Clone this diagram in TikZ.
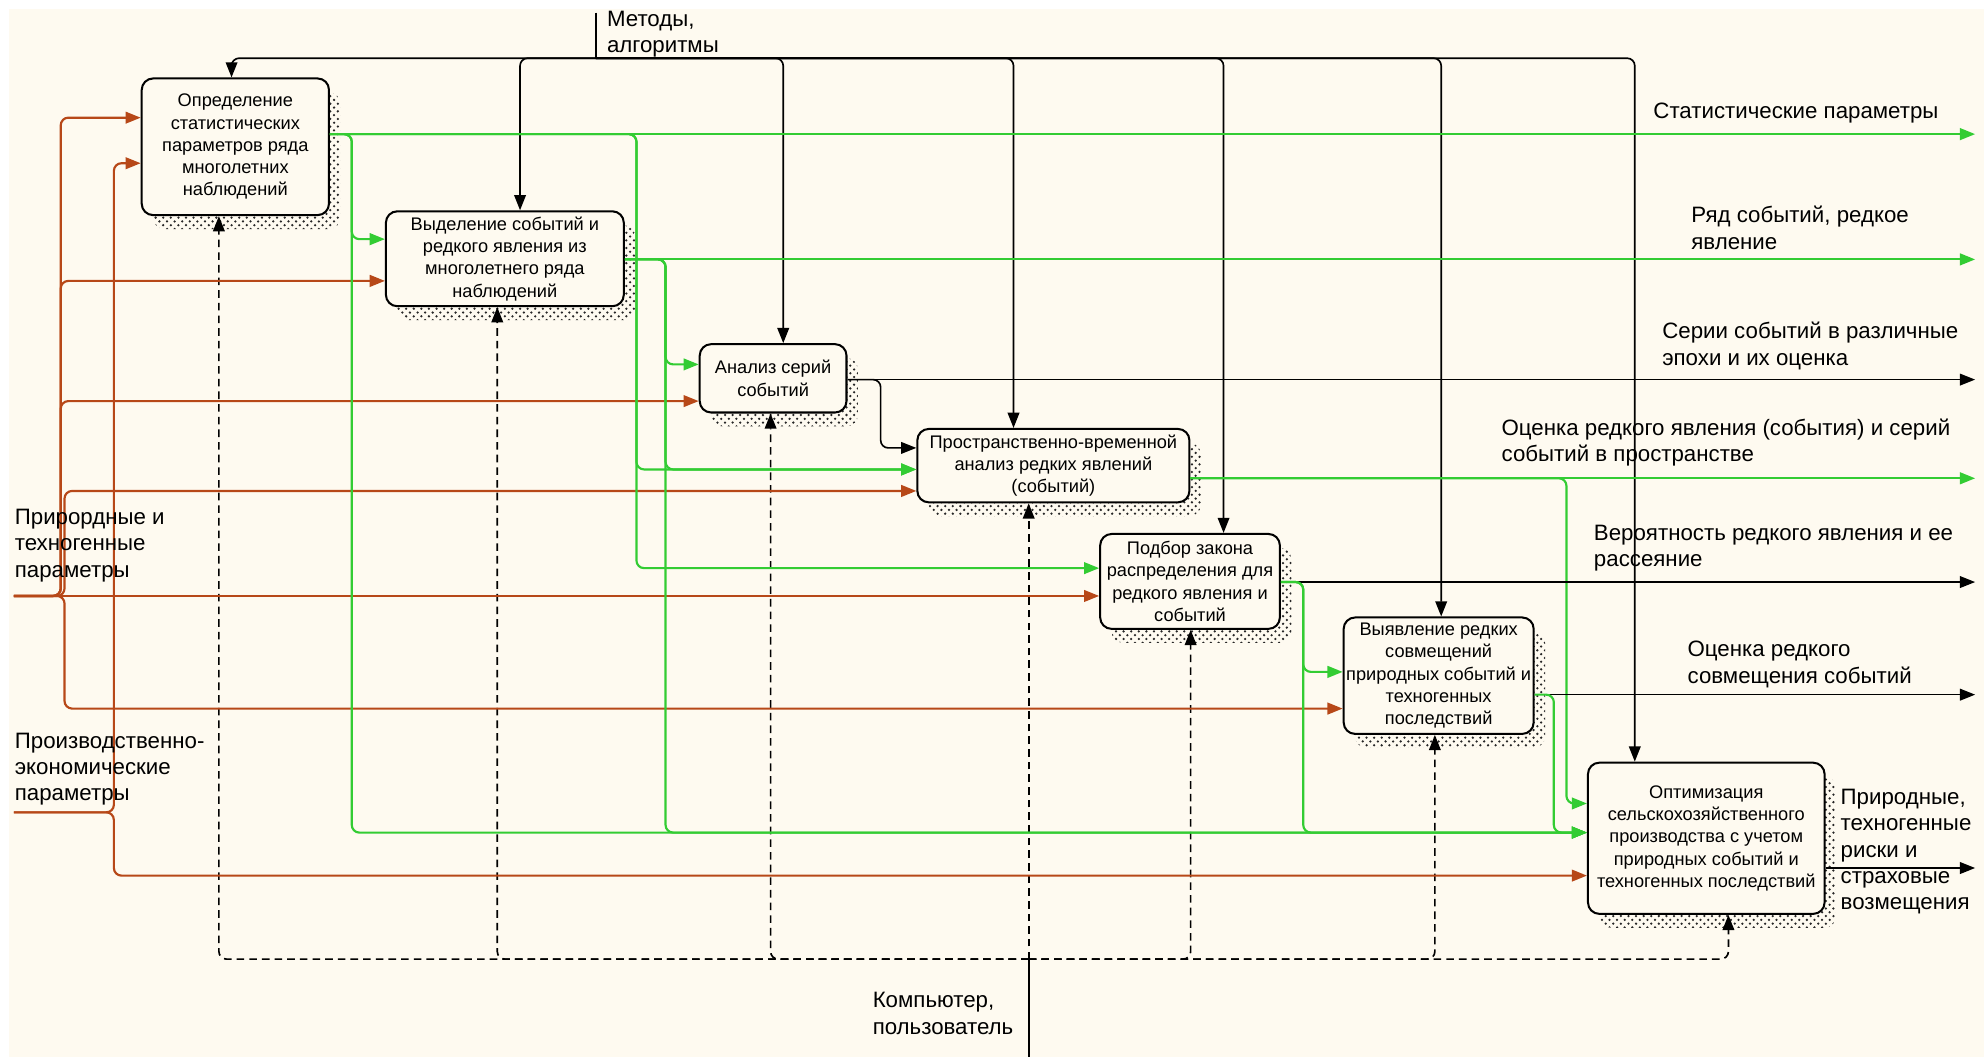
\documentclass[tikz,border=0pt]{standalone}
\usepackage{fontspec}
\setmainfont{Liberation Sans}
\usetikzlibrary{arrows.meta,patterns,shadows}

\definecolor{bgcream}{RGB}{254,250,240}
\definecolor{brownline}{RGB}{183,72,24}
\definecolor{greenline}{RGB}{51,204,51}

\newcommand{\boxfont}{\fontsize{7.2}{8.8}\selectfont}
\newcommand{\lblfont}{\fontsize{8.8}{10.4}\selectfont}

\tikzset{every picture/.style={line width=0.75pt}}
\tikzset{
  idefbox/.style={draw, line width=0.8pt, rounded corners=4.5pt, fill=bgcream,
    inner sep=1pt, align=center, font=\boxfont,
    general shadow={shadow xshift=4.5pt, shadow yshift=-5.5pt,
      pattern=crosshatch dots, pattern color=black!85}},
  lbl/.style={inner sep=0pt, anchor=west, align=left, font=\lblfont},
  tip/.style={-{Triangle[length=6pt,width=4.6pt]}},
  brn/.style={draw=brownline, line width=0.85pt, rounded corners=3pt},
  grn/.style={draw=greenline, line width=0.85pt, rounded corners=3pt},
  blk/.style={draw=black, line width=0.65pt, rounded corners=3pt},
  mech/.style={draw=black, line width=0.65pt, rounded corners=3pt, dash pattern=on 3pt off 2pt},
}

\begin{document}
\begin{tikzpicture}[x=0.5pt,y=0.5pt,yscale=-1]
%Shape: Rectangle (sheet)
\fill[white] (0,0) rectangle (1568,835);
\fill[bgcream] (7,7) rectangle (1568,835);
\useasboundingbox (0,0) rectangle (1568,835);

%Flowchart: Process
\node[idefbox, minimum width=74pt, minimum height=54pt] (b1) at (186,116)
  {Определение\\статистических\\параметров ряда\\многолетних\\наблюдений};
%Flowchart: Process
\node[idefbox, minimum width=94pt, minimum height=37.5pt] (b2) at (399,204.5)
  {Выделение событий и\\редкого явления из\\многолетнего ряда\\наблюдений};
%Flowchart: Process
\node[idefbox, minimum width=58pt, minimum height=27pt] (b3) at (611,299)
  {Анализ серий\\событий};
%Flowchart: Process
\node[idefbox, minimum width=107.5pt, minimum height=29pt] (b4) at (832.5,368)
  {Пространственно-временной\\анализ редких явлений\\(событий)};
%Flowchart: Process
\node[idefbox, minimum width=71pt, minimum height=37.5pt] (b5) at (940.5,459.5)
  {Подбор закона\\распределения для\\редкого явления и\\событий};
%Flowchart: Process
\node[idefbox, minimum width=74.25pt, minimum height=46pt] (b6) at (1137,534)
  {Выявление редких\\совмещений\\природных событий и\\техногенных\\последствий};
%Flowchart: Process
\node[idefbox, minimum width=93.5pt, minimum height=59.75pt] (b7) at (1348.5,662.5)
  {Оптимизация\\сельскохозяйственного\\производства с учетом\\природных событий и\\техногенных последствий};

%Free ends
\coordinate (metIn) at (471,10);
\coordinate (ctrlbus) at (471,46);
\coordinate (mechIn) at (813,835);
\coordinate (mechbus) at (813,758);
\coordinate (inA) at (11,471);
\coordinate (inB) at (11,642);
\coordinate (oStat) at (1561,106);
\coordinate (oRyad) at (1561,205);
\coordinate (oSerii) at (1561,300);
\coordinate (oOcen) at (1561,378);
\coordinate (oVer) at (1561,460);
\coordinate (oSovm) at (1561,549);
\coordinate (oRisk) at (1561,686);

%Straight Lines: controls
\draw[blk] (metIn) -- (ctrlbus);
\draw[blk,tip] (ctrlbus) -- (183,46) -- (b1.north -| 183,0);
\draw[blk,tip] (ctrlbus) -| (b2.north -| 411,0);
\draw[blk,tip] (ctrlbus) -| (b3.north -| 619,0);
\draw[blk,tip] (ctrlbus) -| (b4.north -| 801,0);
\draw[blk,tip] (ctrlbus) -| (b5.north -| 967,0);
\draw[blk,tip] (ctrlbus) -| (b6.north -| 1139,0);
\draw[blk,tip] (ctrlbus) -- (1292,46) -- (b7.north -| 1292,0);

%Straight Lines: mechanisms
\draw[blk] (mechIn) -- (mechbus);
\draw[mech,tip] (mechbus) -- (173,758) -- (b1.south -| 173,0);
\draw[mech,tip] (mechbus) -- (393,758) -- (b2.south -| 393,0);
\draw[mech,tip] (mechbus) -- (609,758) -- (b3.south -| 609,0);
\draw[mech,tip] (mechbus) -- (b4.south -| 813,0);
\draw[mech,tip] (mechbus) -- (941,758) -- (b5.south -| 941,0);
\draw[mech,tip] (mechbus) -- (1134,758) -- (b6.south -| 1134,0);
\draw[mech,tip] (mechbus) -- (1366,758) -- (b7.south -| 1366,0);

%Straight Lines: inputs
\draw[brn,tip] (inA) -- (b5.west |- 0,471);
\draw[brn,tip] (inA) -- (48,471) -- (48,93) -- (b1.west |- 0,93);
\draw[brn,tip] (inA) -- (48,471) -- (48,222) -- (b2.west |- 0,222);
\draw[brn,tip] (inA) -- (48,471) -- (48,317) -- (b3.west |- 0,317);
\draw[brn,tip] (inA) -- (51,471) -- (51,388) -- (b4.west |- 0,388);
\draw[brn,tip] (inA) -- (51,471) -- (51,560) -- (b6.west |- 0,560);
\draw[brn,tip] (inB) -- (90,642) -- (90,129) -- (b1.west |- 0,129);
\draw[brn,tip] (inB) -- (90,642) -- (90,692) -- (b7.west |- 0,692);

%Straight Lines: outputs
\draw[grn,tip] (b1.east |- 0,106) -- (oStat);
\draw[grn,tip] (b1.east |- 0,106) -- (278,106) -- (278,189) -- (b2.west |- 0,189);
\draw[grn,tip] (b1.east |- 0,106) -- (278,106) -- (278,658) -- (b7.west |- 0,658);
\draw[grn,tip] (b1.east |- 0,106) -- (503,106) -- (503,371) -- (b4.west |- 0,371);
\draw[grn,tip] (b1.east |- 0,106) -- (503,106) -- (503,449) -- (b5.west |- 0,449);
\draw[grn,tip] (b2.east |- 0,205) -- (oRyad);
\draw[grn,tip] (b2.east |- 0,205) -- (526,205) -- (526,288) -- (b3.west |- 0,288);
\draw[grn,tip] (b2.east |- 0,205) -- (526,205) -- (526,371) -- (b4.west |- 0,371);
\draw[grn,tip] (b2.east |- 0,205) -- (526,205) -- (526,658) -- (b7.west |- 0,658);
\draw[blk,tip] (b3.east |- 0,300) -- (oSerii);
\draw[blk,tip] (b3.east |- 0,300) -- (696,300) -- (696,354) -- (b4.west |- 0,354);
\draw[grn,tip] (b4.east |- 0,378) -- (oOcen);
\draw[grn,tip] (b4.east |- 0,378) -- (1238,378) -- (1238,635) -- (b7.west |- 0,635);
\draw[blk,tip] (b5.east |- 0,460) -- (oVer);
\draw[grn,tip] (b5.east |- 0,460) -- (1030,460) -- (1030,531) -- (b6.west |- 0,531);
\draw[grn,tip] (b5.east |- 0,460) -- (1030,460) -- (1030,658) -- (b7.west |- 0,658);
\draw[blk,tip] (b6.east |- 0,549) -- (oSovm);
\draw[grn,tip] (b6.east |- 0,549) -- (1228,549) -- (1228,658) -- (b7.west |- 0,658);
\draw[blk,tip] (b7.east |- 0,686) -- (oRisk);

% Text Node
\node[lbl] (lMet) at (479,27) {Методы,\\алгоритмы};
% Text Node
\node[lbl] (lPrir) at (11,431) {Прирордные и\\техногенные\\параметры};
% Text Node
\node[lbl] (lProizv) at (11,608) {Производственно-\\экономические\\параметры};
% Text Node
\node[lbl] (lComp) at (689,801) {Компьютер,\\пользователь};
% Text Node
\node[lbl] (lStat) at (1306,89) {Статистические параметры};
% Text Node
\node[lbl] (lRyad) at (1336,180) {Ряд событий, редкое\\явление};
% Text Node
\node[lbl] (lSerii) at (1313,273.5) {Серии событий в различные\\эпохи и их оценка};
% Text Node
\node[lbl] (lOcen) at (1186,349.5) {Оценка редкого явления (события) и серий\\событий в пространстве};
% Text Node
\node[lbl] (lVer) at (1259,433) {Вероятность редкого явления и ее\\рассеяние};
% Text Node
\node[lbl] (lSovm) at (1333,525) {Оценка редкого\\совмещения событий};
% Text Node
\node[lbl] (lRisk) at (1454,673) {Природные,\\техногенные\\риски и\\страховые\\возмещения};

\end{tikzpicture}
\end{document}
